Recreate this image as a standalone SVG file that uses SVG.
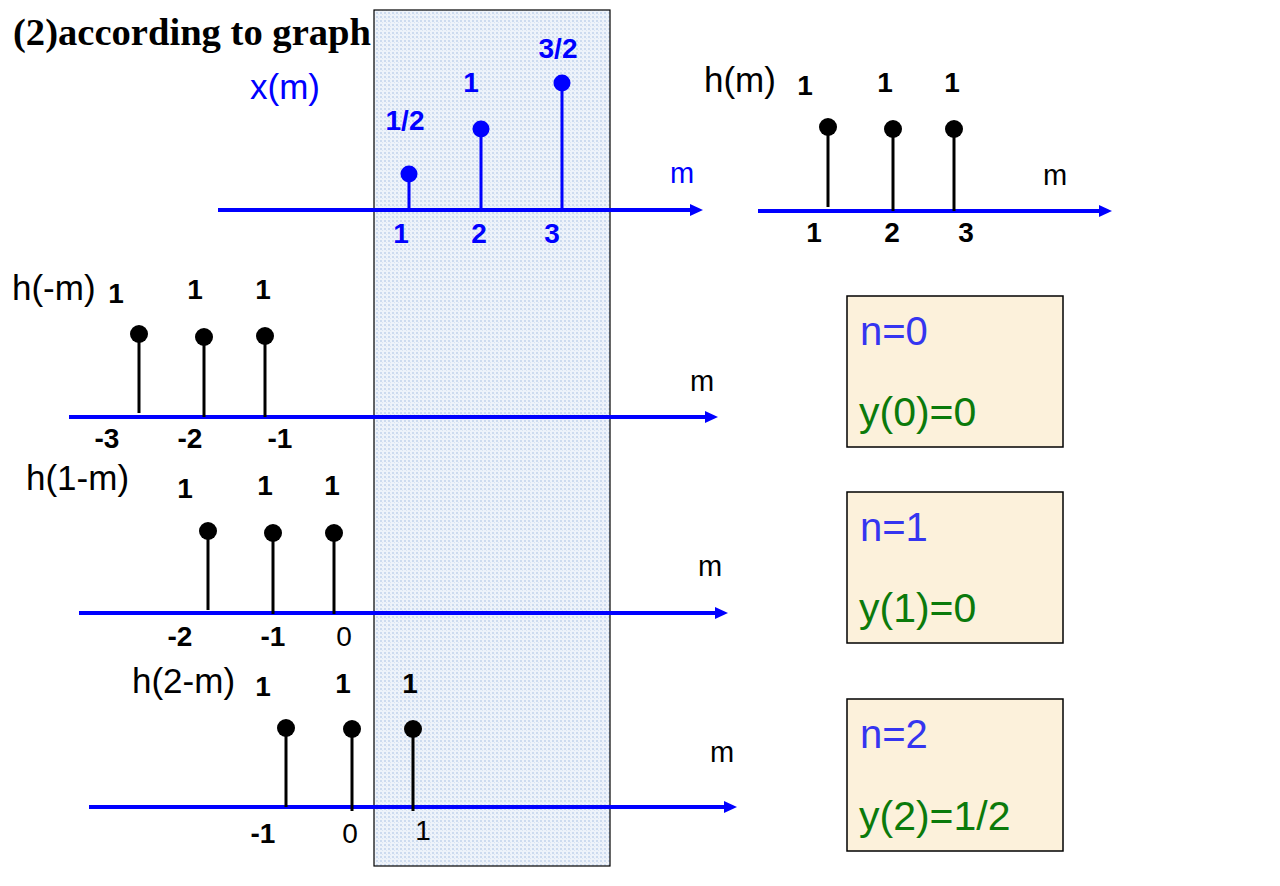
<svg xmlns="http://www.w3.org/2000/svg" width="1280" height="886" viewBox="0 0 1280 886">
<style>
  .lab { font-family: "Liberation Sans", Arial, sans-serif; font-size: 35px; }
  .num { font-family: "Liberation Sans", Arial, sans-serif; font-size: 28px; font-weight: bold; text-anchor: middle; }
  .reg { font-weight: normal; }
  .mm { font-family: "Liberation Sans", Arial, sans-serif; font-size: 29px; text-anchor: middle; }
  .blue { fill: #0000ff; }
  .blk { fill: #000; }
  .axis { stroke: #0000ff; stroke-width: 4; fill: none; }
  .stemB { stroke: #0000ff; stroke-width: 3; }
  .stemK { stroke: #000; stroke-width: 3; }
  .box { fill: #fcf1db; stroke: #000; stroke-width: 1.5; }
  .nt { font-family: "Liberation Sans", Arial, sans-serif; font-size: 40px; fill: #3535f0; }
  .yt { font-family: "Liberation Sans", Arial, sans-serif; font-size: 41px; fill: #0b7a0b; }
</style>
<defs>
  <marker id="arr" markerUnits="userSpaceOnUse" markerWidth="14" markerHeight="14" viewBox="0 0 14 14" refX="2" refY="7" orient="auto">
    <path d="M0,1 L13,7 L0,13 Z" fill="#0000ff"/>
  </marker>
  <pattern id="dots" width="4" height="4" patternUnits="userSpaceOnUse">
    <rect width="4" height="4" fill="#eef3fa"/>
    <rect x="0" y="0" width="2" height="2" fill="#cddbef"/>
    <rect x="2" y="2" width="1" height="1" fill="#dae4f3"/>
  </pattern>
</defs>
<rect width="1280" height="886" fill="#ffffff"/>

<g id="window">
  <rect x="374" y="10" width="236" height="856" fill="url(#dots)" stroke="#000" stroke-width="1.2"/>
</g>

<g id="title">
  <text x="13" y="45" font-family="'Liberation Serif', 'Times New Roman', serif" font-weight="bold" font-size="37" textLength="358" lengthAdjust="spacingAndGlyphs">(2)according to graph</text>
</g>

<g id="xm">
  <line class="axis" x1="218" y1="210" x2="692" y2="210" marker-end="url(#arr)"/>
  <text class="lab blue" x="250" y="99">x(m)</text>
  <line class="stemB" x1="409" y1="174" x2="409" y2="210"/>
  <circle cx="409" cy="174" r="8.5" class="blue"/>
  <line class="stemB" x1="481" y1="129" x2="481" y2="210"/>
  <circle cx="481" cy="129" r="8.5" class="blue"/>
  <line class="stemB" x1="562" y1="83" x2="562" y2="210"/>
  <circle cx="562" cy="83" r="8.5" class="blue"/>
  <text class="num blue" x="405" y="130">1/2</text>
  <text class="num blue" x="471" y="92">1</text>
  <text class="num blue" x="558" y="58">3/2</text>
  <text class="num blue" x="401" y="243">1</text>
  <text class="num blue" x="479" y="243">2</text>
  <text class="num blue" x="552" y="243">3</text>
  <text class="mm blue" x="682" y="183">m</text>
</g>

<g id="hm">
  <line class="axis" x1="758" y1="211" x2="1101" y2="211" marker-end="url(#arr)"/>
  <text class="lab blk" x="704" y="92">h(m)</text>
  <line class="stemK" x1="828" y1="127" x2="828" y2="207"/>
  <circle cx="828" cy="127" r="9"/>
  <line class="stemK" x1="893" y1="129" x2="893" y2="211"/>
  <circle cx="893" cy="129" r="9"/>
  <line class="stemK" x1="954" y1="129" x2="954" y2="211"/>
  <circle cx="954" cy="129" r="9"/>
  <text class="num" x="805" y="95">1</text>
  <text class="num" x="885" y="92">1</text>
  <text class="num" x="952" y="92">1</text>
  <text class="num" x="814" y="242">1</text>
  <text class="num" x="892" y="242">2</text>
  <text class="num" x="966" y="242">3</text>
  <text class="mm" x="1055" y="185">m</text>
</g>

<g id="h_neg_m">
  <line class="axis" x1="69" y1="417" x2="707" y2="417" marker-end="url(#arr)"/>
  <text class="lab blk" x="12" y="300">h(-m)</text>
  <line class="stemK" x1="139" y1="334" x2="139" y2="413"/>
  <circle cx="139" cy="334" r="9"/>
  <line class="stemK" x1="204" y1="337" x2="204" y2="417"/>
  <circle cx="204" cy="337" r="9"/>
  <line class="stemK" x1="265" y1="336" x2="265" y2="417"/>
  <circle cx="265" cy="336" r="9"/>
  <text class="num" x="116" y="303">1</text>
  <text class="num" x="195" y="299">1</text>
  <text class="num" x="263" y="299">1</text>
  <text class="num" x="107" y="448">-3</text>
  <text class="num" x="190" y="448">-2</text>
  <text class="num" x="280" y="448">-1</text>
  <text class="mm" x="702" y="391">m</text>
</g>

<g id="h_1_m">
  <line class="axis" x1="79" y1="613" x2="717" y2="613" marker-end="url(#arr)"/>
  <text class="lab blk" x="26" y="490">h(1-m)</text>
  <line class="stemK" x1="208" y1="531" x2="208" y2="610"/>
  <circle cx="208" cy="531" r="9"/>
  <line class="stemK" x1="273" y1="533" x2="273" y2="614"/>
  <circle cx="273" cy="533" r="9"/>
  <line class="stemK" x1="334" y1="533" x2="334" y2="614"/>
  <circle cx="334" cy="533" r="9"/>
  <text class="num" x="185" y="498">1</text>
  <text class="num" x="265" y="495">1</text>
  <text class="num" x="332" y="495">1</text>
  <text class="num" x="180" y="646">-2</text>
  <text class="num" x="273" y="646">-1</text>
  <text class="num reg" x="344" y="646">0</text>
  <text class="mm" x="710" y="576">m</text>
</g>

<g id="h_2_m">
  <line class="axis" x1="89" y1="807" x2="726" y2="807" marker-end="url(#arr)"/>
  <text class="lab blk" x="132" y="693">h(2-m)</text>
  <line class="stemK" x1="286" y1="728" x2="286" y2="807"/>
  <circle cx="286" cy="728" r="9"/>
  <line class="stemK" x1="352" y1="729" x2="352" y2="811"/>
  <circle cx="352" cy="729" r="9"/>
  <line class="stemK" x1="413" y1="729" x2="413" y2="811"/>
  <circle cx="413" cy="729" r="9"/>
  <text class="num" x="263" y="696">1</text>
  <text class="num" x="343" y="693">1</text>
  <text class="num" x="410" y="693">1</text>
  <text class="num" x="263" y="843">-1</text>
  <text class="num reg" x="350" y="843">0</text>
  <text class="num reg" x="423" y="840">1</text>
  <text class="mm" x="722" y="762">m</text>
</g>

<g id="box_n0">
  <rect class="box" x="847" y="296" width="216" height="151"/>
  <text class="nt" x="860" y="345">n=0</text>
  <text class="yt" x="859" y="426">y(0)=0</text>
</g>
<g id="box_n1">
  <rect class="box" x="847" y="492" width="216" height="151"/>
  <text class="nt" x="860" y="541">n=1</text>
  <text class="yt" x="859" y="622">y(1)=0</text>
</g>
<g id="box_n2">
  <rect class="box" x="847" y="699" width="216" height="152"/>
  <text class="nt" x="860" y="748">n=2</text>
  <text class="yt" x="859" y="830">y(2)=1/2</text>
</g>
</svg>
